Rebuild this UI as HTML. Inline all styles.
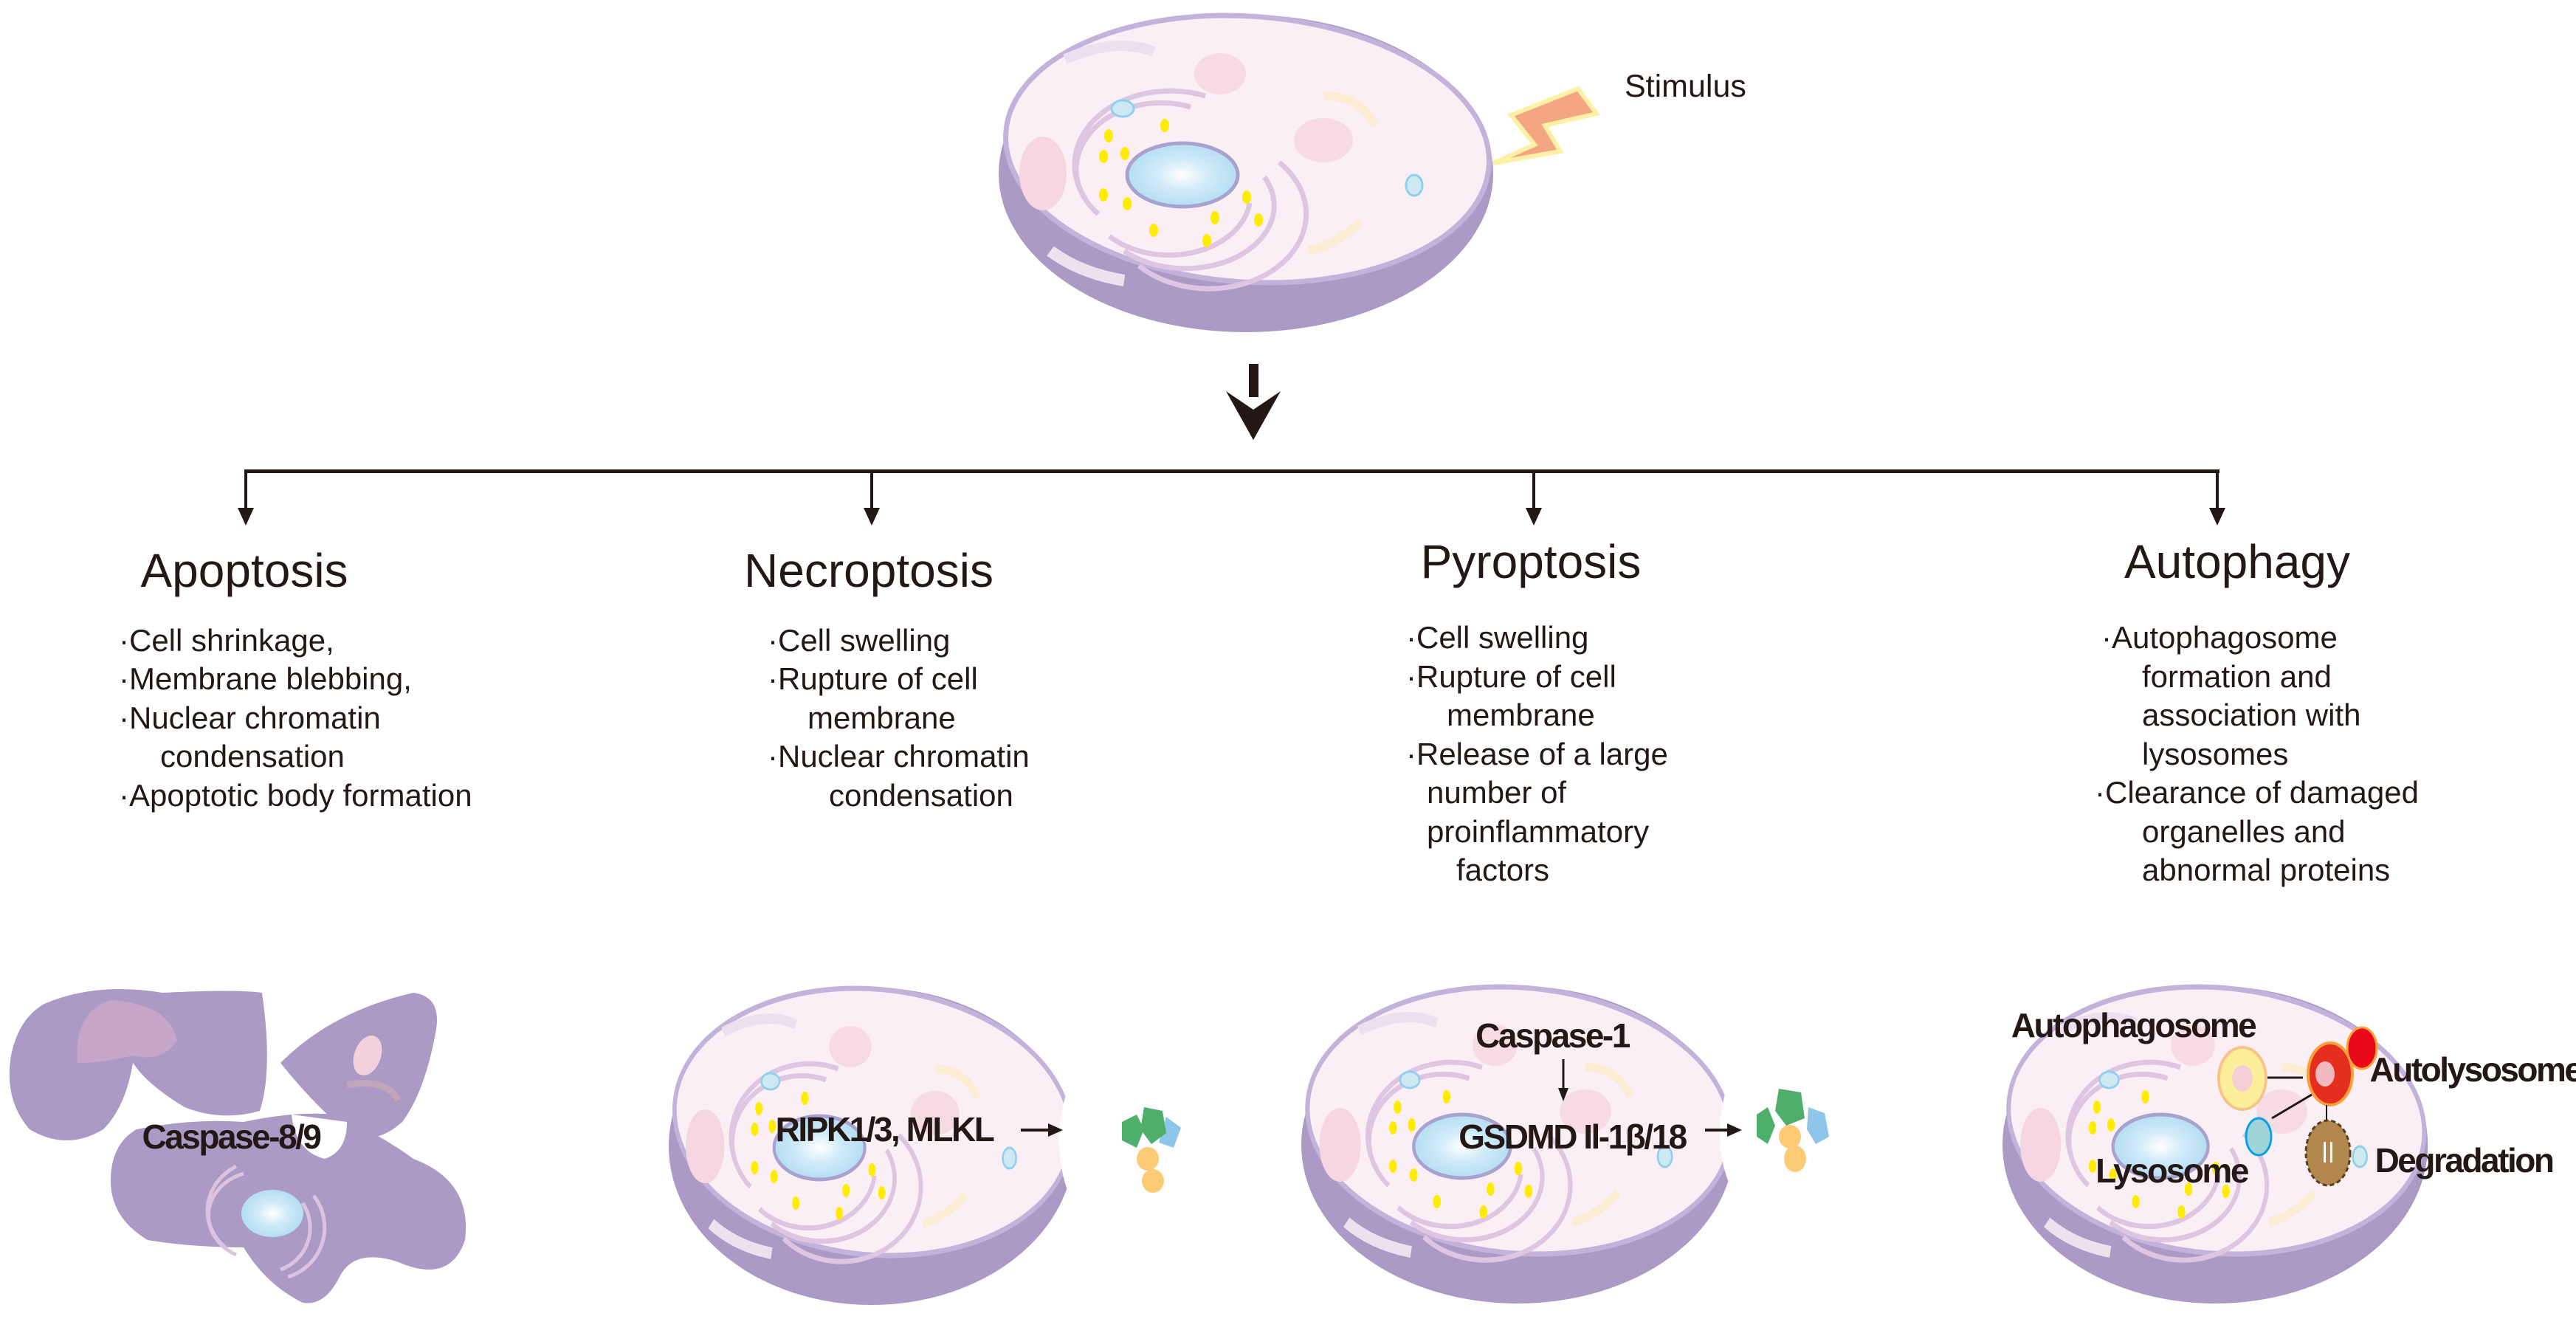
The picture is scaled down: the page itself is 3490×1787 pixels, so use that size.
<!DOCTYPE html>
<html><head><meta charset="utf-8"><style>
html,body{margin:0;padding:0;background:#fff;}
svg{display:block;}
text{font-family:"Liberation Sans",Arial,sans-serif;fill:#231815;}
.t{font-size:64px;}
.b{font-size:42px;}
.l{font-size:46px;font-weight:bold;letter-spacing:-2.5px;}
</style></head><body>
<svg width="3490" height="1787" viewBox="0 0 3490 1787" xmlns="http://www.w3.org/2000/svg">
<defs>
<radialGradient id="nuc" cx="0.5" cy="0.5" r="0.5">
<stop offset="0" stop-color="#ffffff"/><stop offset="0.5" stop-color="#cfeaf8"/><stop offset="1" stop-color="#b5def3"/>
</radialGradient>
<g id="cell">
<ellipse cx="335" cy="215" rx="335" ry="215" fill="#ab9ac6"/>
<ellipse cx="337" cy="182" rx="328" ry="180" transform="rotate(4 337 182)" fill="#fbeff6" stroke="#c3b3da" stroke-width="7"/>
<ellipse cx="60" cy="215" rx="32" ry="50" fill="#f6d6e0"/>
<ellipse cx="440" cy="170" rx="40" ry="30" fill="#f6dae4"/>
<ellipse cx="300" cy="80" rx="35" ry="28" fill="#f6dae4"/>
<path d="M90 60 Q160 30 210 50" stroke="#ece0ee" stroke-width="14" fill="none"/>
<path d="M440 110 Q490 110 510 150" stroke="#fbecd4" stroke-width="12" fill="none"/>
<path d="M420 320 Q460 310 490 280" stroke="#fbecd4" stroke-width="12" fill="none"/>
<path d="M70 320 Q110 350 170 360" stroke="#ece2ee" stroke-width="16" fill="none"/>
<g fill="none" stroke="#dec6e2" stroke-width="7">
<path d="M135 270 A115 90 0 0 1 260 125"/>
<path d="M118 250 A130 100 0 0 1 280 110"/>
<path d="M170 320 A120 85 0 0 0 360 220"/>
<path d="M190 340 A130 100 0 0 0 380 200"/>
<path d="M150 300 A110 80 0 0 0 340 255"/>
</g>
<ellipse cx="249" cy="217" rx="75" ry="43" fill="url(#nuc)" stroke="#a9a2cf" stroke-width="5"/>
<g fill="#ffec00">
<ellipse cx="225" cy="150" rx="6" ry="9"/><ellipse cx="149" cy="164" rx="6" ry="9"/>
<ellipse cx="142" cy="192" rx="6" ry="9"/><ellipse cx="171" cy="188" rx="6" ry="9"/>
<ellipse cx="142" cy="244" rx="6" ry="9"/><ellipse cx="174" cy="256" rx="6" ry="9"/>
<ellipse cx="210" cy="292" rx="6" ry="9"/><ellipse cx="282" cy="306" rx="6" ry="9"/>
<ellipse cx="293" cy="275" rx="6" ry="9"/><ellipse cx="336" cy="247" rx="6" ry="9"/>
<ellipse cx="352" cy="278" rx="6" ry="9"/>
</g>
<ellipse cx="168" cy="127" rx="15" ry="11" fill="#cfe9f2" stroke="#8fd0ef" stroke-width="3"/>
<ellipse cx="563" cy="231" rx="11" ry="14" fill="#cfe9f2" stroke="#8fd0ef" stroke-width="3"/>
</g>
</defs>

<use href="#cell" transform="translate(1353,20)"/>
<polygon points="2023,221 2079,196 2047,156 2138,120 2163,154 2093,170 2114,205" fill="#f4a582" stroke="#fdf1a6" stroke-width="6"/>
<text x="2201" y="131" font-size="43">Stimulus</text>

<rect x="1692" y="493" width="13" height="45" fill="#231815"/>
<polygon points="1661,530 1698,555 1735,530 1698,596" fill="#231815"/>

<rect x="331" y="636" width="2676" height="5" fill="#231815"/>
<g stroke="#231815" stroke-width="4">
<line x1="333" y1="638" x2="333" y2="700"/><line x1="1181" y1="638" x2="1181" y2="700"/>
<line x1="2078" y1="638" x2="2078" y2="700"/><line x1="3004" y1="638" x2="3004" y2="700"/>
</g>
<g fill="#231815">
<polygon points="322,688 344,688 333,712"/><polygon points="1170,688 1192,688 1181,712"/>
<polygon points="2067,688 2089,688 2078,712"/><polygon points="2993,688 3015,688 3004,712"/>
</g>

<text class="t" x="331" y="795" text-anchor="middle">Apoptosis</text>
<text class="t" x="1177" y="795" text-anchor="middle">Necroptosis</text>
<text class="t" x="2074" y="783" text-anchor="middle">Pyroptosis</text>
<text class="t" x="3031" y="783" text-anchor="middle">Autophagy</text>

<g>
<text class="b" x="161" y="882">·Cell shrinkage,</text>
<text class="b" x="161" y="934">·Membrane blebbing,</text>
<text class="b" x="161" y="987">·Nuclear chromatin</text>
<text class="b" x="217" y="1039">condensation</text>
<text class="b" x="161" y="1092">·Apoptotic body formation</text>

<text class="b" x="1040" y="882">·Cell swelling</text>
<text class="b" x="1040" y="934">·Rupture of cell</text>
<text class="b" x="1094" y="987">membrane</text>
<text class="b" x="1040" y="1039">·Nuclear chromatin</text>
<text class="b" x="1123" y="1092">condensation</text>

<text class="b" x="1905" y="878">·Cell swelling</text>
<text class="b" x="1905" y="931">·Rupture of cell</text>
<text class="b" x="1960" y="983">membrane</text>
<text class="b" x="1905" y="1036">·Release of a large</text>
<text class="b" x="1933" y="1088">number of</text>
<text class="b" x="1933" y="1141">proinflammatory</text>
<text class="b" x="1973" y="1193">factors</text>

<text class="b" x="2847" y="878">·Autophagosome</text>
<text class="b" x="2902" y="931">formation and</text>
<text class="b" x="2902" y="983">association with</text>
<text class="b" x="2902" y="1036">lysosomes</text>
<text class="b" x="2838" y="1088">·Clearance of damaged</text>
<text class="b" x="2902" y="1141">organelles and</text>
<text class="b" x="2902" y="1193">abnormal proteins</text>
</g>

<g fill="#ab9ac6">
<path d="M60 1360 Q130 1330 220 1345 Q320 1340 355 1345 Q370 1450 352 1505 Q300 1520 250 1500 Q200 1470 180 1440 Q170 1500 140 1530 Q90 1560 40 1530 Q5 1490 15 1430 Q25 1380 60 1360 Z"/>
<path d="M380 1440 Q450 1370 560 1345 Q600 1350 590 1400 Q575 1480 545 1520 Q500 1560 460 1525 Q420 1490 380 1440 Z"/>
<path d="M185 1530 Q260 1515 330 1520 Q400 1505 455 1510 Q520 1540 560 1570 Q640 1600 630 1680 Q610 1740 540 1710 Q480 1690 460 1730 Q440 1770 410 1765 Q360 1740 330 1690 Q260 1690 200 1680 Q150 1650 150 1600 Q150 1550 185 1530 Z"/>
</g>
<path d="M395 1510 Q400 1560 440 1570 Q470 1560 470 1520 Z" fill="#fff"/>
<path d="M105 1440 Q100 1370 150 1355 Q230 1360 240 1410 Q220 1440 180 1430 Q140 1440 105 1440 Z" fill="#c5a6c9"/>
<ellipse cx="498" cy="1430" rx="18" ry="28" transform="rotate(20 498 1430)" fill="#f2d0dc"/>
<path d="M470 1470 Q520 1460 540 1490" stroke="#c0a6b8" stroke-width="9" fill="none"/>
<g fill="none" stroke="#dcc3e0" stroke-width="5">
<path d="M320 1700 A70 60 0 0 1 330 1590"/><path d="M305 1690 A80 70 0 0 1 320 1580"/>
<path d="M410 1630 A60 60 0 0 1 380 1720"/><path d="M425 1620 A70 70 0 0 1 390 1730"/>
</g>
<ellipse cx="369" cy="1644" rx="42" ry="32" fill="url(#nuc)"/>
<text class="l" x="313" y="1556" text-anchor="middle">Caspase-8/9</text>

<use href="#cell" transform="translate(906,1338) scale(0.82,1)"/>
<ellipse cx="1505" cy="1545" rx="70" ry="125" fill="#fff"/>
<text class="l" x="1198" y="1546" text-anchor="middle">RIPK1/3, MLKL</text>
<line x1="1383" y1="1531" x2="1425" y2="1531" stroke="#231815" stroke-width="4"/>
<polygon points="1420,1522 1440,1531 1420,1540" fill="#231815"/>
<polygon points="1580,1513 1600,1528 1590,1555 1570,1548" fill="#8ec6ea"/>
<polygon points="1520,1520 1540,1510 1550,1530 1540,1555 1520,1545" fill="#4fb06e"/>
<polygon points="1550,1500 1575,1505 1580,1535 1560,1550 1545,1530" fill="#4fae6a"/>
<ellipse cx="1555" cy="1570" rx="15" ry="16" fill="#fdca76"/>
<ellipse cx="1562" cy="1600" rx="15" ry="16" fill="#fdca76"/>

<use href="#cell" transform="translate(1763,1336) scale(0.875,1)"/>
<ellipse cx="2400" cy="1535" rx="70" ry="120" fill="#fff"/>
<text class="l" x="2103" y="1419" text-anchor="middle">Caspase-1</text>
<line x1="2118" y1="1435" x2="2118" y2="1478" stroke="#231815" stroke-width="3"/>
<polygon points="2111,1474 2125,1474 2118,1492" fill="#231815"/>
<text class="l" x="2130" y="1556" text-anchor="middle">GSDMD Il-1β/18</text>
<line x1="2310" y1="1531" x2="2345" y2="1531" stroke="#231815" stroke-width="4"/>
<polygon points="2340,1522 2360,1531 2340,1540" fill="#231815"/>
<polygon points="2450,1500 2472,1508 2478,1540 2460,1550 2448,1530" fill="#8ec6ea"/>
<polygon points="2380,1510 2395,1500 2405,1525 2395,1550 2380,1540" fill="#4fb06e"/>
<polygon points="2410,1475 2440,1480 2445,1515 2420,1525 2405,1505" fill="#4fae6a"/>
<ellipse cx="2425" cy="1540" rx="15" ry="16" fill="#fdca76"/>
<ellipse cx="2432" cy="1570" rx="15" ry="18" fill="#fdca76"/>

<use href="#cell" transform="translate(2713,1336) scale(0.86,1)"/>
<ellipse cx="3038" cy="1461" rx="32" ry="42" fill="#fdef9a" stroke="#f6c48a" stroke-width="4"/>
<ellipse cx="3038" cy="1461" rx="14" ry="18" fill="#f6cfd6"/>
<line x1="3072" y1="1460" x2="3120" y2="1460" stroke="#231815" stroke-width="3"/>
<ellipse cx="3157" cy="1455" rx="30" ry="42" fill="#e52e1d" stroke="#f8a13a" stroke-width="4"/>
<ellipse cx="3200" cy="1420" rx="20" ry="28" fill="#e8081a" stroke="#f8a13a" stroke-width="3"/>
<ellipse cx="3150" cy="1455" rx="13" ry="17" fill="#f4b9c0"/>
<ellipse cx="3060" cy="1540" rx="17" ry="25" fill="#9fd4d8" stroke="#0aa0e6" stroke-width="3"/>
<line x1="3078" y1="1515" x2="3132" y2="1483" stroke="#231815" stroke-width="3"/>
<line x1="3152" y1="1497" x2="3152" y2="1525" stroke="#231815" stroke-width="2"/>
<ellipse cx="3154" cy="1562" rx="30" ry="44" fill="#b2874d" stroke="#5a3d20" stroke-width="3" stroke-dasharray="6 4"/>
<text x="3154" y="1575" font-size="30" text-anchor="middle" style="fill:#fff">ꟾꟾ</text>
<text class="l" x="2890" y="1405" text-anchor="middle">Autophagosome</text>
<text class="l" x="3354" y="1465" text-anchor="middle">Autolysosome</text>
<text class="l" x="2942" y="1602" text-anchor="middle">Lysosome</text>
<text class="l" x="3338" y="1588" text-anchor="middle">Degradation</text>
</svg>
</body></html>
